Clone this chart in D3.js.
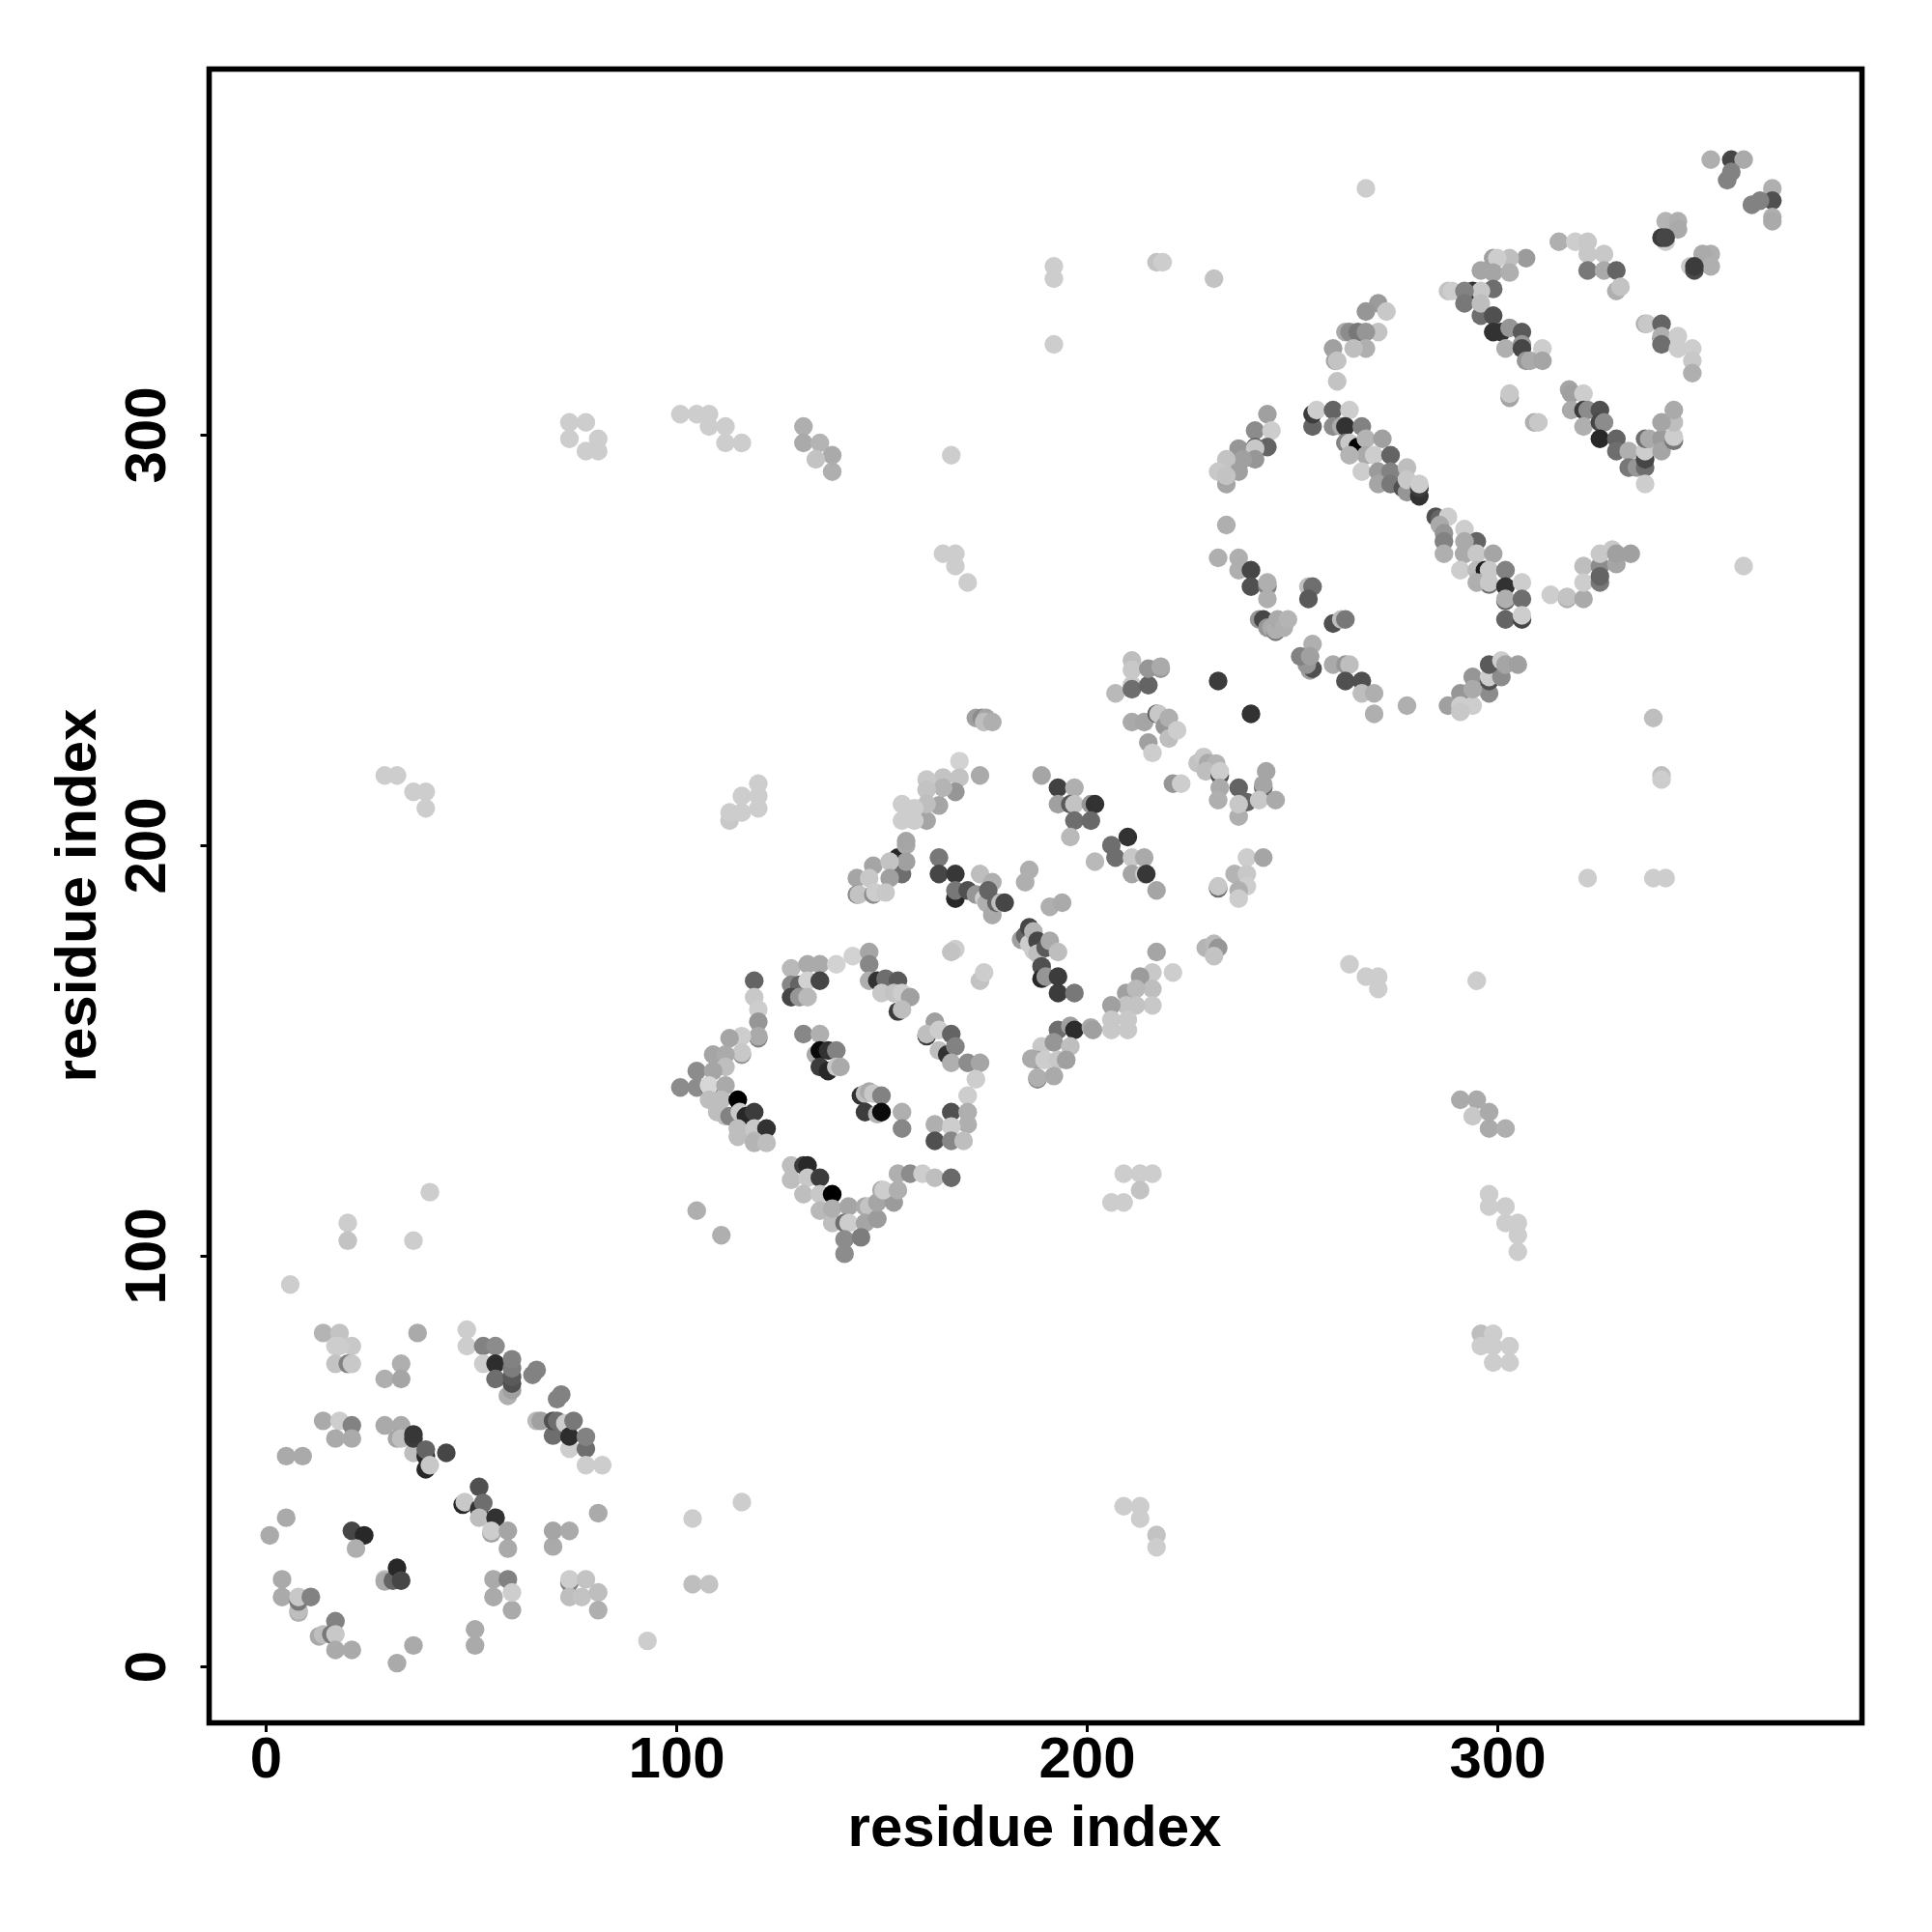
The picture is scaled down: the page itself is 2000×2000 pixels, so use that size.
<!DOCTYPE html>
<html><head><meta charset="utf-8"><style>html,body{margin:0;background:#fff}svg{display:block}text{font-family:"Liberation Sans",Arial,sans-serif;font-weight:700;fill:#000}</style>
<script src="https://cdn.jsdelivr.net/npm/d3@7"></script></head><body><script>
const tickValues=[0,100,200,300];
const xTitle="residue index", yTitle="residue index";
// rows: residue i, residue j, grey level
const basinOne=[[40,115.5,205],[20,108,205],[20,103.7,195],[36,103.7,205],[6,93,205],[14,81.2,180],[18,81.2,195],[17,78,205],[21,78,200],[18,78,205],[17,73.7,195],[20,73.7,130],[21,73.7,200],[37,81.2,170],[33,73.7,175],[29,70,175],[33,70,165],
[49,82,205],[49,78,205],[53,78,130],[56,78,140],[53,73.7,205],[56,73.7,45],[56,70,110],[59,65.9,175],[60,67.3,160],[60,68.9,80],[60,70.5,90],[60,72.6,125],[60,74.8,130],[65,71,130],[66,72.2,130],[71,65.1,130],[72,66.2,130],
[66,59.8,185],[67,59.8,160],[70,56.2,110],[70,59.8,80],[71,59.8,110],[73,59.2,205],[74,53,205],[74,56,45],[75,59.8,120],[78,53,110],[78,55.9,130],[78,49,205],[82,49,205],
[14,59.8,170],[18,59.8,205],[21,58.7,130],[17,55.5,170],[21,55.5,170],[5,51.2,170],[9,51.2,170],[29,58.7,170],[33,58.7,170],[32,55.5,165],[33,55.5,190],[36,52,190],[36,55.5,60],[36,56.5,55],[39,51.2,40],[39,52.8,100],[44,52,70],[39,48,40],[40,49,200],
[52,43.7,80],[48,39.4,40],[48.5,40,200],[52,38.3,50],[53,39.8,110],[52,36.2,190],[56,36.2,50],[55,32.4,160],[55,33,205],[59,28.7,170],[59,33,165],[70,29.2,170],[70,33,165],[74,33,170],[81,37.3,170],
[21,33,70],[24,31.9,40],[22,28.7,175],[5,36.2,170],[1,31.9,170],[4,21.2,170],[4,16.9,170],[8,13.1,175],[8,13.7,190],[8,15.8,120],[8,16.9,200],[11,16.9,130],[17,11,130],[13,7.3,170],[14,7.8,190],[16,7.8,120],[17,7.8,200],[17,4,170],[21,4,170],[36,5.1,170],[32,0.8,170],
[29,21.2,190],[29,20.7,170],[31,20.9,100],[32,24,40],[33,20.9,70],[51,9,170],[51,5.1,170],[55.5,21.2,170],[55.5,16.9,170],[59,21.2,130],[60,13.7,170],[60,18,205],[74,20.4,130],[74,21.2,205],[78,21.2,195],[74,16.9,190],[77,16.9,195],[81,18,190],[81,13.7,175],[93,6.2,205]];
const outliers=[[104,36,205],[104,20,190],[108,20,195],[116,40,205],[209,39,205],[213,39,205],[213,36,205],[217,32,195],[217,29,205],
[206,113,205],[209,113,205],[209,120,205],[213,120,205],[216,120,205],[213,116,195],[264,171,205],[268,168,205],[271,168,205],[271,165,205],[295,167,205],
[291,138,170],[295,138,170],[294,134,200],[298,135,170],[298,131,170],[302,131,175],[298,115,205],[298,112,205],[302,112,205],[302,108,205],[305,108,205],[305,105,205],[305,101,205],
[296,81,190],[296,78,205],[299,81,205],[299,78,205],[303,78,205],[299,74,205],[303,74,205],[322,192,205],[338,192,205],[341,192,205],[340,217,190],[340,216,205],[338,231,190],[360,268,205],
[268,360,205],[192,341,205],[192,338,205],[192,322,205],[217,342,195],[218.5,342,205],[231,338,195],[74,303,205],[78,303,205],[74,299,205],[81,299,205],[78,296,205],[81,296,205],
[101,305,205],[105,305,205],[108,305,205],[108,302,205],[112,302,205],[112,298,205],[116,298,205],[131,302,175],[131,298,170],[135,298,180],[138,295,170],[134,294,195],[138,291,175],[167,295,205],
[165,271,205],[168,271,205],[168,268,205],[171,264,205],[29,217,205],[32,217,205],[36,213,205],[39,213,205],[39,209,205],[113,206,200],[113,208,205],[116,208,205],[116,212,205],[120,212,205],[120,209,205],[120,215,205]];
const basinTwo=[[105,111,175],[111,105,175],[119,167,100],[119,163,200],[120,160,205],[120,157,150],[120,153,130],[120,153.5,170],[116,153.5,205],[113,153,165],[116,149,150],[116,149.5,200],[109,149,165],[112,149,170],[112,146,190],[105,145,140],[109,145,165],[101,141,140],[105,141,140],[108,141,120],[108,141.5,215],[112,141.5,170],[108,138,190],[111,138,190],[115,138,0],[110,135,190],[112,134,190],[113,134,130],[115.5,135,200],[117,134,40],[119,135,60],[115,129,190],[115,131,190],[119,131,200],[122,131,50],[119,128,185],[119,127.5,180],[122,127.5,190],
[128,170,185],[132,171,170],[135,171,170],[139,171,210],[143,173,210],[147,174,165],[147,171,135],[147,167,175],[128,166,135],[130,166,100],[132,167,210],[135,167,70],[128,163,70],[130,163,150],[132,163,185],[149,167,50],[151,167.5,110],[154,167,90],[150,164,200],[153,164,195],[155,164,205],[157,163,160],[154,159.5,60],[155,160,190],
[131,154,135],[135,154,175],[134,149,170],[135,150,10],[137,150,50],[139,150,130],[135,146,60],[137,145,40],[139,146,200],[140,146,170],[145,139,50],[146,139.5,190],[147,140,170],[148,139.5,200],[150,139,130],[146,135,60],[149,134.5,180],[150,135,10],[155,135,175],[155,131,135],
[163,157,160],[161,153.5,60],[161,154,190],[164,155,205],[167,154,100],[164,150,190],[166,149,50],[168,151,130],[167,147,175],[171,147,140],[174,147,165],[173,143,205],[171,139,205],[167,135,80],[171,135,175],[163,132,175],[171,132,175],[167,131.5,205],[163,128,80],[167,128,135],[170,128,190],
[128,122,190],[128,118.5,190],[131,122,60],[132,122,40],[132,119,200],[135,119,60],[131,115,190],[135,115,200],[138,115,0],[135,111,185],[138,108,190],[138,111.5,175],[142,112,165],[146,112,170],[147,112,195],[141,108,110],[142,108,205],[146,108,165],[149,109,155],[149,113,165],[153,113,155],[150,116,170],[150.5,116,205],[154,116,175],[154,120,175],[157,120,140],[160,120,205],[163,119,190],[167,119,105],[141,104,140],[145,104.5,125],[141,100.5,140]];
const basinThree=[[173,231,160],[174.4,231,140],[175.5,231,165],[175,230,190],[177,230,175],[169,220.5,210],[169,216.5,195],[174,217,170],[165,216.5,195],[161,216,200],[168,213,150],[165,214,180],[161,213.5,195],[164,209.7,165],[161,206,165],[161,210,190],[155,210,205],[158,209,205],[155,206,205],[158,206,205],
[155,193,110],[154,197,40],[156,200,170],[156,201,165],[156,196,160],[148,195,165],[152,196,195],[152,192,160],[144,192,165],[147,192,200],[144,188,140],[144.5,188,195],[148,188,140],[148.5,188.5,205],[151,188.5,200],
[164,197,120],[164,193,70],[168,193,55],[168,187,40],[168,189,120],[171,189,80],[174,193,190],[173,188,150],[175,187,205],[175.6,186,175],[177,183,170],[177,191,175],[176,189,100],[178,186,100],[179,186,190],[180,186,70],[186,194,175],[185,191,175],[191,185,175],[194,186,170],
[184,177,160],[185,178,100],[186,180,70],[186,176,205],[187,179,180],[187,174.4,205],[188,176.7,70],[188,173.6,190],[190,175,90],[191,176.7,170],[193,174,190],[189,170.5,80],[189,167.5,40],[190,168,150],[193,168,60],[193,164,60],[197,164,120],
[189,217,165],[193,214,65],[197,214,175],[193,210,160],[196,210,90],[197,210,195],[201,210,150],[202,210,50],[197,206,110],[201,206,105],[196,202,185],[206,200,110],[210,202,50],[202,196,185],[207,197,110],[211,197,200],[214,197,170],[211,193,165],[214,193,200],[214.5,193,55],[217,189,165],
[207,237,185],[211,239,200],[211,238,110],[215,239,100],[211,245,190],[211,242.7,200],[215,243,150],[218,243,150],[218,243.5,170],[211,230,170],[214,230,165],[217,232,100],[217.5,232,200],[219,229,150],[220,231,175],[220,226,190],[222,228,205],[215,225,160],[216,222.5,205],[221,215,150],[223,215,205],
[227,220,195],[228.5,221.5,200],[229.5,220,170],[231.5,219.9,180],[229,218,190],[232.4,217,80],[232.4,218,205],[232.4,214,170],[232,211,175],[237,214,100],[239,210.5,100],[237,207,175],[237,210,200],[243,214,100],[243.7,218,165],[243,214.8,165],[242,211,200],[246,211,170],
[232,189.5,110],[232,190,200],[236,193,180],[239,197,205],[243,197,165],[239,193,200],[239,190,205],[237,189,175],[237,187,205],
[229,175,180],[231,176,185],[232,175,150],[231,173,195],[217,174,165],[221,169,205],[216,169,200],[213,168,155],[216,165,190],[209.6,164,160],[212,165,185],[216,161,200],[212,161,195],[209.6,161,195],[206,161,160],[206,157.5,200],[210,157.5,200],[206,155,200],[210,155,200],
[193,155,110],[196,156,160],[197,155,45],[201,155.6,170],[201.5,155,160],[189,151,200],[192,152,150],[196,151,190],[188,147.7,160],[186.5,148,170],[189.7,147.7,205],[193,147.7,200],[195,147.7,160],[188,143,130],[188,143.4,175],[192,143.8,170],[168,174.7,205],[167,174,195],[174,167,195],[175,169,205]];
const basinFour=[[244,305,160],[241,301,140],[245,301,205],[237,296.6,150],[241,297,100],[244,297,100],[241,296.6,200],[241,294,150],[238,294,160],[234,294,195],[237,291,160],[232,291,200],[234,288,165],[234,290,195],[234,278,175],[232,270,175],[237,270,175],[237,267,175],[240,267,70],[240,263,80],[244,263,130],[244,264,175],[244,260,175],
[242,255,150],[243,255,70],[244,253,150],[245,253,170],[246,252,120],[246,252.5,175],[246.5,255,170],[248,253,175],[249,255,180],[254,263,190],[255,263,110],[254,260,90],[260,254,80],[262,255,190],[263,255,120],[255,249,175],[254.4,242.6,160],[255,243,80],[253.6,244,150],[252,246,130],[254.4,246,160],[260,244,170],[263,244,150],[264,244,190],[263,240,80],[267,240,80],[267,237,190],[270,237,175],[270,232,175],[278,234,175],[232,240,60],[240,232,50],
[288,234,160],[291,237,150],[291,234,205],[294,234,205],[291,232.5,200],[298,237,140],[294,241,150],[294,238,170],[298,240,80],[298,241,205],[301,241,140],[298,244,90],[301,245,205],[302,244,165],[305,244,160],
[255,302,100],[255,305,60],[256,306,205],[260,306,100],[264,306,205],[260,302,140],[262,302,170],[263,302,50],[267,302,130],[263,298,130],[264,298,200],[266,297,0],[268,299,180],[272,299,160],[268,295,170],[270,295,205],[274,295,100],[264,295,180],[267,291,205],[271,291,155],[274,291,130],[278,292,190],[271,288,165],[274,288,120],[277,287,80],[278,286,150],[278,289,200],[281,285,50],[281,287,60],[281,288,205],
[285,280,80],[286,279.5,100],[288,280,205],[286,278,170],[287,276,150],[292,277,205],[287,274,130],[287,271,175],[295,274,100],[292,271,120],[292,274,170],[292,271,170],[295,271,200],[299,271,165],[291,267,205],[295,267,185],[297,267,30],[298,263.5,110],[298,267,200],[302,267,130],[295,264,175],[298,264,200],[302,263,50],[306,264,205],[302,259.5,100],[302,260,175],[306,260,110],[302,255,100],[306,255,70],[306,256,205],
[303,309,165],[303,310,200],[309,303,175],[310,303,200],[313,261,205],[317,260,175],[317,260.5,195],[321,260,170],[321,268,190],[321,264,205],[325,268,140],[325,264,120],[325,265.5,100],[325,271,200],[328,272,200],[329,268.5,165],[329,271,160],[332.5,271,160],
[271,332,155],[273,330,200],[268,330,150],[271,325,195],[263,325,170],[264,325,140],[266,325,120],[268,325,150],[260,321,160],[268,321,175],[265,321,190],[260.5,318,165],[261,318,195],[261,313,195]];
const basinFive=[[352,367,175],[357,367,70],[360,367,170],[357,364,130],[356,362,130],[367,360,175],[367,357,80],[364,357,130],[362,356,130],[367,353,175],[367,352,170],[341,352,180],[344,352,175],[344,350,170],[341,347,205],[340,348,60],[341,348,70],[352,344,175],[350,344,170],[352,341,175],[347,341,200],[348,340,75],[348,341,60],
[315,347,175],[319,347,205],[322,347,200],[322,344,200],[326,344,200],[322,340,120],[326,340,170],[329,340,100],[329,335,175],[330,336,195],
[307,343,155],[303,343,190],[299,343,160],[300,343,205],[296,340,165],[299,339.5,165],[303,339.5,175],[299,335.5,110],[294,335,50],[296,335,200],[288,335,195],[289,335,205],[292,335,130],[292,332,120],[296,329,110],[296,332,190],[299,329,80],[299,325,50],[301,325,50],[303,326,150],[306,325,90],[302,321,175],[306,322,150],[306,321,70],[311,321,205],[307,318,150],[308,318,170],[311,318,165],
[336,327,175],[336.5,327,200],[340,327,100],[340,323.5,100],[340,324,175],[344,324,205],[340,322,110],[344,321,205],[347.5,321,205],[347.5,318,200],[347.5,315,175],
[317.5,311,165],[318,310,160],[321,310,205],[318,306,170],[321,306,60],[322,306,140],[325,306,80],[321,302,175],[325,303,70],[326,303,140],[325,299,40],[329,299,100],[329,296,110],[332,296,175],[332,292,120],[334,292,150],[336,292,110],[336,294,70],[336,296,205],[336,288,205],[336,299,110],[337,299,170],[340,299,155],[340,296,165],[343,298.5,120],[343,299.5,205],[343,303,190],[340,303,165],[343,306,170]];

const points=[...basinOne,...outliers,...basinTwo,...basinThree,...basinFour,...basinFive];
const x=d3.scaleLinear().domain([0,300]).range([275,1550]);
const y=d3.scaleLinear().domain([0,300]).range([1725,450]);
const svg=d3.select("body").append("svg").attr("width",2000).attr("height",2000);
svg.append("rect").attr("width",2000).attr("height",2000).attr("fill","#fff");
svg.append("g").selectAll("circle").data(points).join("circle")
  .attr("cx",d=>x(d[0])).attr("cy",d=>y(d[1])).attr("r",9.7)
  .attr("fill",d=>d3.rgb(d[2],d[2],d[2]));
svg.append("rect").attr("x",216.5).attr("y",71.5).attr("width",1711).attr("height",1712)
  .attr("fill","none").attr("stroke","#000").attr("stroke-width",5.6);
const gx=svg.append("g").attr("transform","translate(0,1784)").call(d3.axisBottom(x).tickValues(tickValues).tickSize(9).tickPadding(0).tickFormat(d3.format("d")));
gx.select(".domain").remove();
gx.selectAll("line").attr("stroke","#000").attr("stroke-width",3);
gx.selectAll("text").attr("y",0).attr("dy",null).attr("transform","translate(0,56)").attr("text-anchor","middle").style("font-size","60px");
const gy=svg.append("g").attr("transform","translate(216.5,0)").call(d3.axisLeft(y).tickValues(tickValues).tickSize(9).tickPadding(0).tickFormat(d3.format("d")));
gy.select(".domain").remove();
gy.selectAll("line").attr("stroke","#000").attr("stroke-width",3);
gy.selectAll("text").attr("x",0).attr("y",0).attr("dy",null).attr("transform","translate(-46,0) rotate(-90)").attr("text-anchor","middle").style("font-size","60px");
svg.append("text").attr("x",1071).attr("y",1911).attr("text-anchor","middle").style("font-size","60px").text(xTitle);
svg.append("text").attr("transform","translate(99,927) rotate(-90)").attr("text-anchor","middle").style("font-size","60px").text(yTitle);
</script></body></html>
